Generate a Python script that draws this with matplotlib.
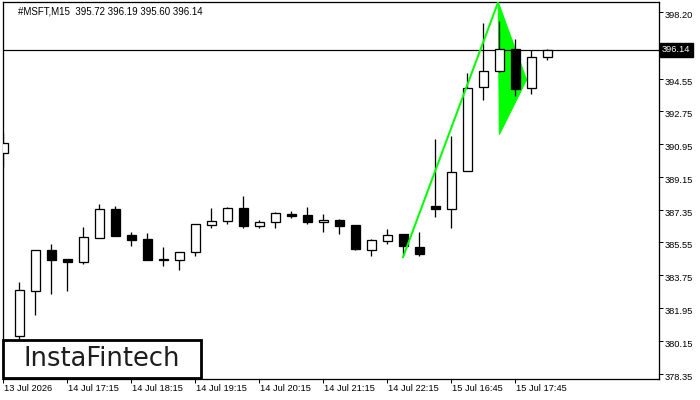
import matplotlib
matplotlib.use("Agg")
import matplotlib.pyplot as plt
from matplotlib.patches import Polygon, Rectangle
from matplotlib.transforms import ScaledTranslation, blended_transform_factory

# ---- data (M15 candles, index = bar number) ----
opens = [390.46, 380.40, 382.87, 385.13, 384.63, 384.47, 385.79, 387.38, 385.95, 385.73,
         384.63, 384.58, 385.02, 386.50, 386.72, 387.44, 386.45, 386.67, 387.12, 387.07,
         386.65, 386.78, 386.52, 385.16, 385.62, 386.01, 385.29, 387.55, 387.38, 389.47,
         394.09, 394.97, 396.18, 394.03, 395.72]
highs = [391.56, 383.39, 385.15, 385.48, 384.64, 386.41, 387.67, 387.56, 386.13, 386.08,
         385.29, 385.03, 386.57, 387.45, 387.51, 388.11, 386.78, 387.22, 387.27, 387.51,
         387.12, 386.85, 386.52, 385.75, 386.30, 386.01, 386.12, 391.25, 391.41, 394.86,
         397.61, 397.73, 396.73, 396.14, 396.19]
lows = [389.72, 380.20, 381.57, 382.73, 382.91, 384.39, 385.78, 385.92, 385.33, 384.56,
        384.28, 384.06, 384.83, 386.32, 386.59, 386.32, 386.32, 386.37, 386.87, 386.54,
        386.15, 386.04, 385.16, 384.83, 385.44, 384.78, 384.78, 386.94, 386.32, 389.46,
        393.35, 394.89, 393.57, 393.70, 395.60]
closes = [391.01, 382.93, 385.13, 384.56, 384.50, 385.84, 387.38, 385.93, 385.71, 384.61,
          384.56, 385.02, 386.56, 386.72, 387.44, 386.43, 386.67, 387.16, 386.98, 386.65,
          386.78, 386.48, 385.20, 385.68, 385.95, 385.33, 384.91, 387.38, 389.42, 394.03,
          394.97, 396.18, 393.98, 395.74, 396.14]

xtick_pos = [0, 4, 8, 12, 16, 20, 24, 28, 32]
xtick_labels = ["13 Jul 2026", "14 Jul 17:15", "14 Jul 18:15", "14 Jul 19:15",
                "14 Jul 20:15", "14 Jul 21:15", "14 Jul 22:15", "15 Jul 16:45",
                "15 Jul 17:45"]
ytick_vals = [378.35, 380.15, 381.95, 383.75, 385.55, 387.35, 389.15, 390.95,
              392.75, 394.55, 396.35, 398.20]
last_price = 396.14
title_text = "#MSFT,M15  395.72 396.19 395.60 396.14"

# bullish pennant: pole line and flag triangle (bar index, price)
pole_x = [24.95, 30.92]
pole_y = [384.69, 398.76]
flag_x = [30.92, 30.99, 32.70]
flag_y = [398.76, 391.47, 394.49]

# ---- figure ----
W, H, DPI = 700, 400, 100
fig = plt.figure(figsize=(W / DPI, H / DPI), dpi=DPI, facecolor="white")
ax = fig.add_axes([3 / W, 21 / H, 656 / W, 377 / H])
ax.set_facecolor("white")
ax.set_xlim(-0.03, 40.97)
ax.set_ylim(378.05, 398.76)

px = 72 / DPI  # one pixel in points

# flag triangle (under candles)
ax.add_patch(Polygon(list(zip(flag_x, flag_y)), closed=True, facecolor="#00ff00",
                     edgecolor="#00ff00", lw=px, zorder=1))

# last price line
ax.axhline(last_price, color="black", lw=px * 1.2, zorder=2)

# candles
bw = 0.62
for i, (o, h, l, c) in enumerate(zip(opens, highs, lows, closes)):
    ax.vlines(i, l, h, color="black", lw=px * 1.3, zorder=3)
    bull = c >= o
    ax.bar(i, abs(c - o), bottom=min(o, c), width=bw,
           facecolor="white" if bull else "black", edgecolor="black",
           linewidth=px * 1.3, zorder=4)

# pennant pole
ax.plot(pole_x, pole_y, color="#00ff00", lw=2 * px, zorder=5, solid_capstyle="butt")

# axes styling
for s in ax.spines.values():
    s.set_color("black")
    s.set_linewidth(px * 1.3)
ax.yaxis.tick_right()
ax.set_yticks(ytick_vals)
ax.set_yticklabels([f"{v:.2f}" for v in ytick_vals])
ax.set_xticks(xtick_pos)
ax.set_xticklabels(xtick_labels, ha="left")
ax.tick_params(axis="both", direction="out", length=4 * px, width=px, color="black",
               labelsize=6.7, labelcolor="black")
ax.tick_params(axis="y", pad=2 * px)
ax.tick_params(axis="x", pad=1 * px)
for lab in ax.get_yticklabels() + ax.get_xticklabels():
    lab.set_fontfamily(["Liberation Sans", "DejaVu Sans"])
for lab in ax.get_yticklabels():
    lab.set_transform(lab.get_transform() + ScaledTranslation(0, -2.5 / DPI, fig.dpi_scale_trans))
for lab in ax.get_xticklabels():
    lab.set_transform(lab.get_transform() + ScaledTranslation(0.5 / DPI, 0, fig.dpi_scale_trans))

# current price label on the right axis
trans = blended_transform_factory(ax.transAxes, ax.transData)
ax.text(1.0, last_price, "396.14", transform=trans + ScaledTranslation(3 / DPI, 0, fig.dpi_scale_trans),
        ha="left", va="center", color="white", fontsize=6.7,
        family=["Liberation Sans", "DejaVu Sans"], clip_on=False, zorder=20,
        bbox=dict(boxstyle="square,pad=0.25", facecolor="black", edgecolor="black"))

# title
fig.text(18 / W, 1 - 11 / H, title_text, ha="left", va="center", fontsize=7.0,
         family=["Liberation Sans", "DejaVu Sans"], color="black")

# logo box
fig.patches.append(Rectangle((3 / W, 1 - 378 / H), 198 / W, 38 / H, transform=fig.transFigure,
                             facecolor="white", edgecolor="black", lw=2.0, zorder=30))
fig.text(102 / W, 1 - 359 / H, "InstaFintech", ha="center", va="center", fontsize=18.5,
         family=["DejaVu Sans"], color="#1e1e1e", zorder=31)

fig.savefig("out.png", dpi=DPI, facecolor="white")
